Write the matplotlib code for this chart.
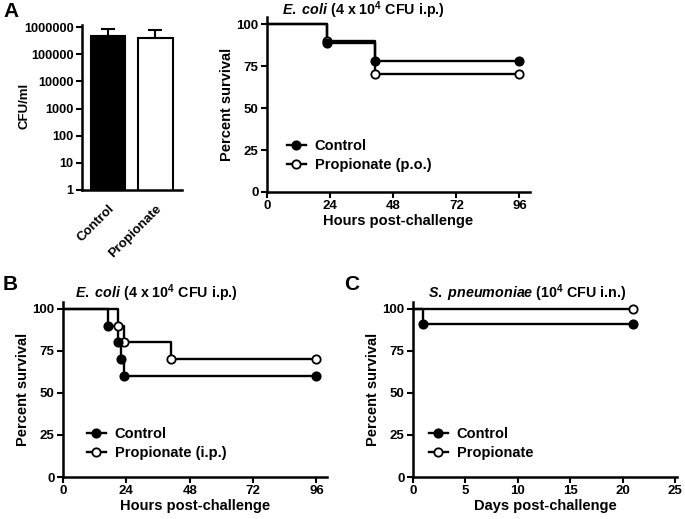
import numpy as np
import matplotlib.pyplot as plt

plt.rcParams['font.family'] = ['Liberation Sans', 'DejaVu Sans']
plt.rcParams['font.weight'] = 'bold'
plt.rcParams['axes.labelweight'] = 'bold'
plt.rcParams['mathtext.fontset'] = 'custom'
plt.rcParams['mathtext.rm'] = 'Liberation Sans:bold'
plt.rcParams['mathtext.it'] = 'Liberation Sans:italic:bold'
plt.rcParams['mathtext.bf'] = 'Liberation Sans:bold'

# Panel A - bacterial load
groups = ['Control', 'Propionate']
cfu_mean = [4.6e5, 3.9e5]
cfu_err = [3.7e5, 3.7e5]

# Panel A - survival, propionate p.o.
a_ctrl_t = [0, 23, 41, 96]
a_ctrl_s = [100, 88.9, 77.8, 77.8]
a_prop_t = [0, 23, 41, 96]
a_prop_s = [100, 90, 70, 70]

# Panel B - survival, propionate i.p.
b_ctrl_t = [0, 17, 21, 22, 23, 96]
b_ctrl_s = [100, 90, 80, 70, 60, 60]
b_prop_t = [0, 21, 23, 41, 96]
b_prop_s = [100, 90, 80, 70, 70]

# Panel C - S. pneumoniae
c_ctrl_t = [0, 1, 21]
c_ctrl_s = [100, 90.9, 90.9]
c_prop_t = [0, 21]
c_prop_s = [100, 100]

W, H = 685, 519
fig = plt.figure(figsize=(W / 100, H / 100), dpi=100)

def box(l, r, b, t):
    return [l / W, 1 - b / H, (r - l) / W, (b - t) / H]

def style(ax):
    for s in ['top', 'right']:
        ax.spines[s].set_visible(False)
    for s in ['left', 'bottom']:
        ax.spines[s].set_linewidth(1.8)
    ax.tick_params(width=1.5, length=4, labelsize=9.5, pad=2)

def survival(ax, t, s, filled, label):
    ax.step(t, s, where='post', color='black', lw=1.7, zorder=2)
    ax.plot(t[1:], s[1:], 'o', ls='-', lw=0, ms=6, mec='black', mew=1.3,
            mfc='black' if filled else 'white', zorder=3)
    # legend handle only
    ax.plot([], [], 'o-', color='black', lw=1.7, ms=6, mew=1.3,
            mfc='black' if filled else 'white', label=label)

def legend(ax, x, y):
    h, l = ax.get_legend_handles_labels()
    ax.legend(h[::-1], l[::-1], loc='upper left', bbox_to_anchor=(x / W, 1 - y / H),
              bbox_transform=fig.transFigure, frameon=False, fontsize=10.5,
              handlelength=1.3, handletextpad=0.6, labelspacing=0.35,
              borderpad=0, borderaxespad=0)

# ---- A: bars ----
ax = fig.add_axes(box(82, 182, 190, 25))
x = np.arange(len(groups))
ax.bar(x, cfu_mean, width=0.72, color=['black', 'white'], edgecolor='black', lw=1.5,
       yerr=[[0, 0], cfu_err], capsize=5, error_kw=dict(lw=1.5, capthick=1.5), zorder=2)
ax.set_yscale('log')
ax.set_ylim(1, 1.2e6)
ax.set_xlim(-0.55, 1.56)
ax.set_yticks([1, 10, 100, 1000, 1e4, 1e5, 1e6])
ax.set_yticklabels(['1', '10', '100', '1000', '10000', '100000', '1000000'])
ax.set_xticks(x)
ax.set_xticklabels(groups, rotation=45, ha='right', rotation_mode='anchor')
style(ax)
ax.tick_params(axis='y', labelsize=9.2)
ax.tick_params(axis='x', labelsize=9.5, length=0, pad=9)
ax.tick_params(axis='y', which='minor', length=2, width=1)
ax.set_ylabel('CFU/ml', fontsize=9.5)
ax.yaxis.set_label_coords(-0.52, 0.51)

# ---- A: survival ----
ax = fig.add_axes(box(267, 530, 192, 17.3))
survival(ax, a_prop_t, a_prop_s, False, 'Propionate (p.o.)')
survival(ax, a_ctrl_t, a_ctrl_s, True, 'Control')
ax.set_xlim(0, 100)
ax.set_ylim(0, 104)
ax.set_xticks([0, 24, 48, 72, 96])
ax.set_yticks([0, 25, 50, 75, 100])
style(ax)
ax.set_xlabel('Hours post-challenge', fontsize=10.5, labelpad=1)
ax.set_ylabel('Percent survival', fontsize=10.5, labelpad=2)
legend(ax, 287, 139)
fig.text(282 / W, 1 - 10 / H, r'$\it{E.}$ $\it{coli}$ (4 x 10$^{4}$ CFU i.p.)', fontsize=10.3,
         fontweight='bold', va='center', ha='left')

# ---- B ----
ax = fig.add_axes(box(63, 327, 477, 302))
survival(ax, b_prop_t, b_prop_s, False, 'Propionate (i.p.)')
survival(ax, b_ctrl_t, b_ctrl_s, True, 'Control')
ax.set_xlim(0, 100)
ax.set_ylim(0, 104)
ax.set_xticks([0, 24, 48, 72, 96])
ax.set_yticks([0, 25, 50, 75, 100])
style(ax)
ax.set_xlabel('Hours post-challenge', fontsize=10.5, labelpad=1)
ax.set_ylabel('Percent survival', fontsize=10.5, labelpad=2)
legend(ax, 87, 427)
fig.text(75 / W, 1 - 293 / H, r'$\it{E.}$ $\it{coli}$ (4 x 10$^{4}$ CFU i.p.)', fontsize=10.3,
         fontweight='bold', va='center', ha='left')

# ---- C ----
ax = fig.add_axes(box(413, 677, 477, 302))
survival(ax, c_prop_t, c_prop_s, False, 'Propionate')
survival(ax, c_ctrl_t, c_ctrl_s, True, 'Control')
ax.set_xlim(0, 25.2)
ax.set_ylim(0, 104)
ax.set_xticks([0, 5, 10, 15, 20, 25])
ax.set_yticks([0, 25, 50, 75, 100])
style(ax)
ax.set_xlabel('Days post-challenge', fontsize=10.5, labelpad=1)
ax.set_ylabel('Percent survival', fontsize=10.5, labelpad=2)
legend(ax, 429, 427)
fig.text(428 / W, 1 - 293 / H, r'$\it{S.}$ $\it{pneumoniae}$ (10$^{4}$ CFU i.n.)', fontsize=10.3,
         fontweight='bold', va='center', ha='left')

# panel letters
fig.text(3 / W, 1 - 2 / H, 'A', fontsize=15, fontweight='bold', va='top')
fig.text(3 / W, 1 - 275 / H, 'B', fontsize=15, fontweight='bold', va='top')
fig.text(344 / W, 1 - 275 / H, 'C', fontsize=15, fontweight='bold', va='top')

fig.savefig('out.png', dpi=100)
